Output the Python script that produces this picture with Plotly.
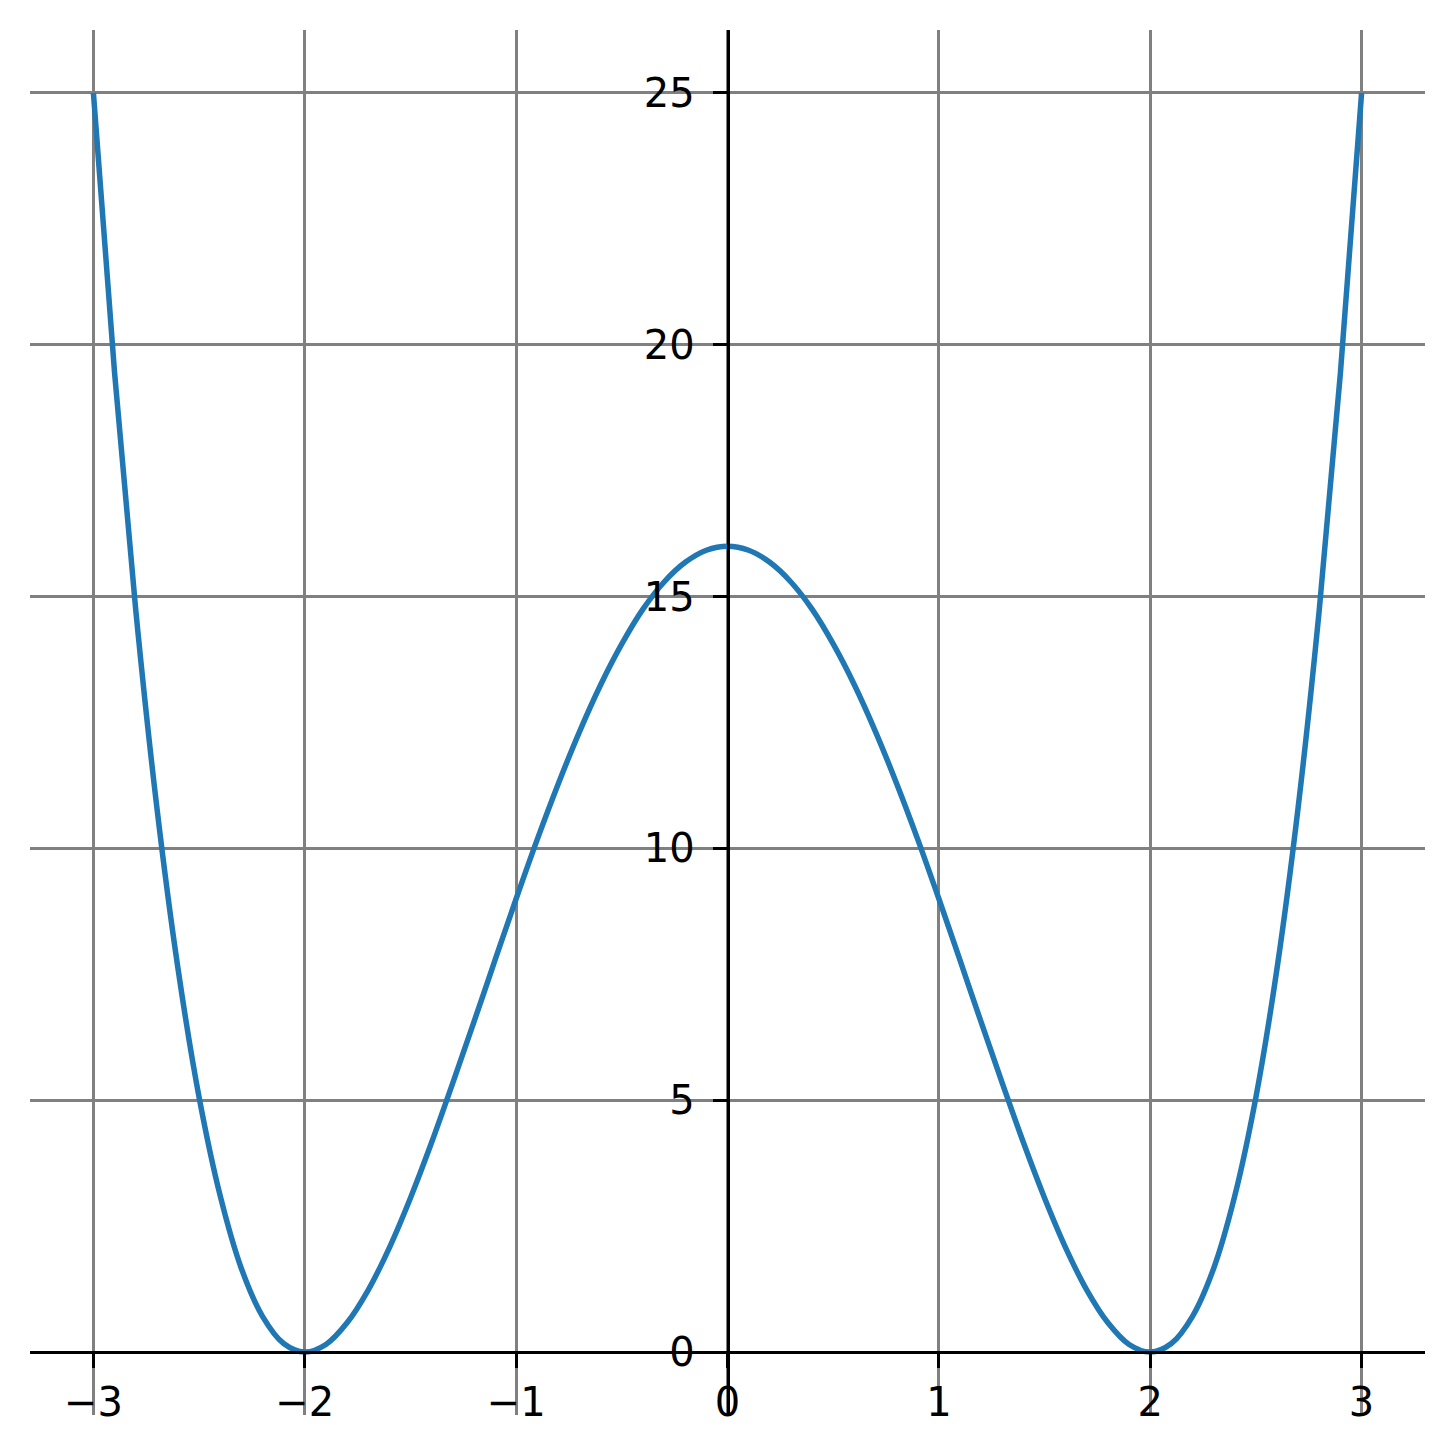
import plotly.graph_objects as go

# pontos (simetrica em torno de x = 0)
x_vals = [-3.0, -2.9, -2.8, -2.7, -2.6, -2.5, -2.4, -2.3, -2.2, -2.1, -2.0,
          -1.9, -1.8, -1.7, -1.6, -1.5, -1.4, -1.3, -1.2, -1.1, -1.0,
          -0.9, -0.8, -0.7, -0.6, -0.5, -0.4, -0.3, -0.2, -0.1, 0.0,
          0.1, 0.2, 0.3, 0.4, 0.5, 0.6, 0.7, 0.8, 0.9, 1.0,
          1.1, 1.2, 1.3, 1.4, 1.5, 1.6, 1.7, 1.8, 1.9, 2.0,
          2.1, 2.2, 2.3, 2.4, 2.5, 2.6, 2.7, 2.8, 2.9, 3.0]
y_vals = [25.0, 19.45, 14.75, 10.82, 7.62, 5.06, 3.10, 1.66, 0.71, 0.17, 0.0,
          0.15, 0.58, 1.23, 2.07, 3.06, 4.16, 5.34, 6.55, 7.78, 9.0,
          10.18, 11.29, 12.32, 13.25, 14.06, 14.75, 15.29, 15.68, 15.92, 16.0,
          15.92, 15.68, 15.29, 14.75, 14.06, 13.25, 12.32, 11.29, 10.18, 9.0,
          7.78, 6.55, 5.34, 4.16, 3.06, 2.07, 1.23, 0.58, 0.15, 0.0,
          0.17, 0.71, 1.66, 3.10, 5.06, 7.62, 10.82, 14.75, 19.45, 25.0]

x_ticks = [-3, -2, -1, 0, 1, 2, 3]
x_ticktext = ["\u22123", "\u22122", "\u22121", "0", "1", "2", "3"]
y_ticks = [0, 5, 10, 15, 20, 25]

x_range = [-3.3, 3.3]
y_range = [-1.25, 26.25]

fig = go.Figure()
fig.add_trace(go.Scatter(x=x_vals, y=y_vals, mode='lines',
                         line=dict(color='#1f77b4', width=5.5, shape='spline'),
                         showlegend=False))

# eixos cruzando na origem
eixo = dict(showline=True, linecolor='black', linewidth=2.7,
            ticks='outside', ticklen=14, tickwidth=2.7, tickcolor='black',
            showgrid=True, gridcolor='#808080', gridwidth=2.5,
            zeroline=False, anchor='free',
            tickfont=dict(family='DejaVu Sans', size=40, color='black'))

fig.update_layout(
    width=1455, height=1454,
    margin=dict(l=22, r=38, t=22, b=47),
    plot_bgcolor='white', paper_bgcolor='white',
    xaxis=dict(eixo, range=x_range, tickvals=x_ticks, ticktext=x_ticktext,
               position=(0 - y_range[0]) / (y_range[1] - y_range[0])),
    yaxis=dict(eixo, range=y_range, tickvals=y_ticks, ticklabelstandoff=10,
               position=(0 - x_range[0]) / (x_range[1] - x_range[0])),
)

fig.write_html("out.html")
